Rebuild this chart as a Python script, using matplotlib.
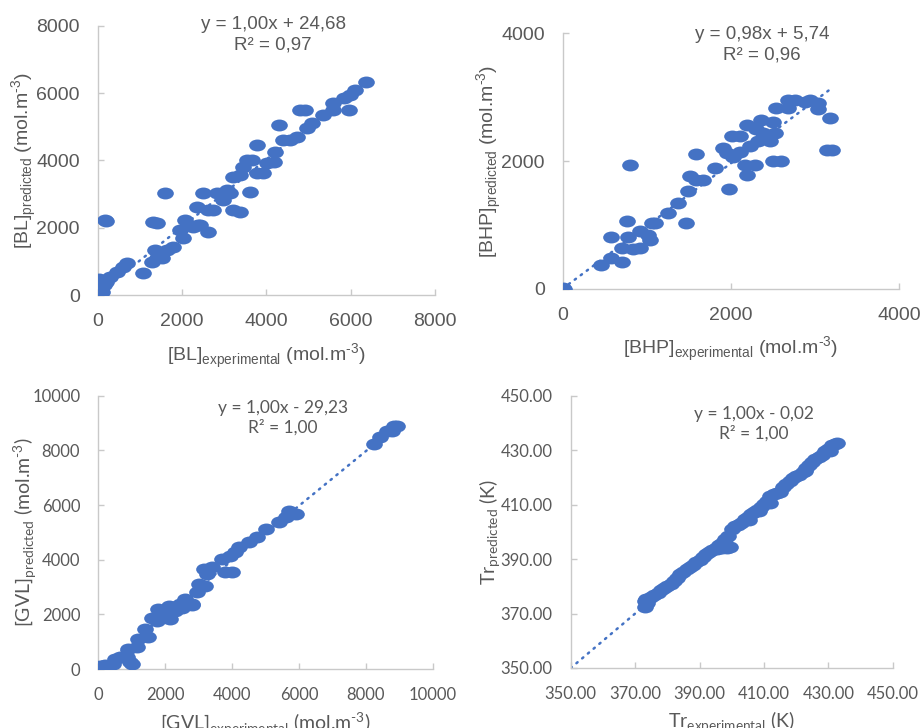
import matplotlib
matplotlib.use("Agg")
import matplotlib.pyplot as plt
from matplotlib.path import Path

# ---- data ----
bl_exp = [0, 10, 20, 30, 50, 80, 120, 30, 15, 5, 0, 60, 100, 150, 200, 170, 190,
          300, 450, 600, 700, 1080, 1280, 1320, 1360, 1400, 1400, 1520, 1600, 1640,
          1790, 1950, 2030, 2070, 2270, 2350, 2390, 2430, 2500, 2620, 2620, 2740,
          2820, 2980, 3060, 3140, 3220, 3220, 3380, 3380, 3450, 3530, 3610, 3650,
          3770, 3770, 3930, 4010, 4170, 4210, 4290, 4400, 4560, 4720, 4800, 4920,
          4960, 5080, 5350, 5590, 5590, 5830, 5950, 5980, 6100, 6360]
bl_pred = [0, 30, 80, 150, 250, 350, 420, 480, 380, 200, 100, 150, 100, 300, 380,
           2220, 2200, 540, 690, 840, 940, 640, 990, 2180, 1340, 1090, 2130, 1090,
           3040, 1340, 1430, 1930, 1680, 2230, 2030, 2620, 2080, 2080, 3020, 1880,
           2520, 2520, 3020, 2820, 3120, 3020, 2520, 3510, 2480, 3560, 3810, 4010,
           3070, 4010, 4450, 3610, 3610, 3910, 3960, 4260, 5050, 4600, 4600, 4700,
           5490, 5490, 4950, 5100, 5350, 5490, 5690, 5840, 5490, 5940, 6090, 6340]

bhp_exp = [0, 5, 10, 460, 580, 700, 580, 700, 760, 780, 840, 920, 920, 1020, 1040,
           1060, 1100, 800, 1250, 1370, 1470, 1490, 1510, 1590, 1590, 1670, 1810,
           1910, 1950, 1980, 2010, 2030, 2110, 2110, 2170, 2190, 2190, 2230, 2290,
           2300, 2320, 2360, 2380, 2460, 2500, 2520, 2500, 2600, 2540, 2680, 2680,
           2760, 2880, 2940, 3040, 3040, 3180, 3140, 3200]
bhp_pred = [0, 10, 5, 370, 480, 430, 820, 640, 1060, 820, 620, 640, 900, 850, 770,
            1030, 1040, 1940, 1190, 1340, 1030, 1530, 1760, 1710, 2110, 1710, 1890,
            2200, 2130, 1570, 2390, 2070, 2150, 2390, 1940, 1790, 2570, 2230, 1940,
            2500, 2310, 2650, 2440, 2310, 2620, 2440, 2000, 2000, 2830, 2960, 2830,
            2960, 2930, 2960, 2910, 2820, 2670, 2180, 2180]

gvl_exp = [0, 50, 150, 250, 200, 450, 500, 650, 850, 950, 1000, 900, 1150, 1200,
           1400, 1500, 1600, 1750, 1800, 1950, 2050, 2100, 2150, 2200, 2300, 2450,
           2500, 2600, 2800, 2800, 2950, 3000, 3150, 3200, 3250, 3400, 3700, 3800,
           3950, 4000, 4100, 4200, 4500, 4750, 5000, 5400, 5600, 5700, 5900, 8230,
           8430, 8630, 8780, 8830, 8930]
gvl_pred = [0, 120, 120, 60, 150, 180, 370, 430, 430, 240, 180, 730, 790, 1100,
            1460, 1160, 1850, 1770, 2200, 1890, 1980, 2320, 1830, 2280, 2130, 2380,
            2220, 2560, 2380, 2340, 2800, 3110, 3660, 3050, 3470, 3720, 4020, 3540,
            4150, 3540, 4270, 4450, 4630, 4820, 5120, 5370, 5550, 5790, 5670, 8230,
            8480, 8720, 8720, 8900, 8900]

tr_exp = [373.0, 373.1, 373.3, 373.6, 374.0, 375.0, 376.0, 377.0, 378.0, 379.0,
          380.0, 381.0, 382.0, 383.0, 384.0, 385.0, 386.0, 387.0, 388.0, 389.0,
          390.0, 391.0, 392.0, 393.0, 394.0, 395.0, 396.0, 397.0, 398.0, 399.0,
          395.5, 397.0, 398.5, 399.5, 400.0, 401.0, 402.0, 403.0, 404.0, 405.0,
          405.5, 406.0, 407.0, 408.0, 408.5, 409.0, 410.0, 411.0, 411.8, 412.0,
          413.0, 414.0, 415.0, 416.0, 417.0, 418.0, 419.0, 420.0, 421.0, 422.0,
          422.8, 423.0, 424.0, 425.0, 426.0, 427.0, 428.0, 429.0, 430.0, 430.5,
          431.0, 432.0, 432.6]
tr_pred = [372.5, 374.5, 375.5, 374.0, 375.2, 376.0, 376.8, 377.6, 378.5, 379.3,
           380.2, 381.0, 381.8, 383.0, 384.6, 385.4, 386.2, 387.0, 388.0, 388.8,
           389.8, 390.8, 391.8, 392.6, 393.4, 394.2, 395.0, 396.0, 397.2, 398.6,
           393.8, 393.9, 394.2, 394.6, 401.2, 402.0, 402.6, 403.4, 404.6, 405.4,
           404.4, 406.6, 407.4, 408.0, 407.8, 409.2, 410.2, 411.2, 410.6, 413.0,
           413.8, 414.2, 414.6, 416.4, 417.6, 418.8, 419.8, 420.6, 421.0, 422.0,
           422.4, 423.6, 424.6, 425.6, 426.6, 427.6, 428.4, 429.6, 430.4, 429.8,
           431.8, 432.4, 432.6]

blue = "#4472C4"
grey_txt = "#595959"
grey_ax = "#C9C9C9"

circ = Path.unit_circle()
ellipse = Path(circ.vertices * [1.4, 1.0], circ.codes)

W, H = 922, 728
fig = plt.figure(figsize=(W / 100, H / 100), dpi=100)


def panel(box, x, y, slope, icpt, x0, lim, ticks, fmt, font, fs, lfs,
          xlab, ylab, ylab_x, xlab_y, eq, eq_xy, eq_fs):
    l, b, r, t = box
    ax = fig.add_axes([l / W, 1 - b / H, (r - l) / W, (b - t) / H])
    xx = [x0, max(x)]
    ax.plot(xx, [slope * v + icpt for v in xx], color=blue, lw=1.8,
            ls=(0, (0.6, 2.4)), dash_capstyle="round", zorder=2)
    ax.plot(x, y, ls="none", marker=ellipse, ms=12, color=blue, mec="none", zorder=3)
    ax.set_xlim(lim)
    ax.set_ylim(lim)
    ax.set_xticks(ticks)
    ax.set_yticks(ticks)
    ax.set_xticklabels([fmt.format(v) for v in ticks])
    ax.set_yticklabels([fmt.format(v) for v in ticks])
    for s in ["top", "right"]:
        ax.spines[s].set_visible(False)
    for s in ["left", "bottom"]:
        ax.spines[s].set_color(grey_ax)
        ax.spines[s].set_linewidth(1.0)
    ax.tick_params(direction="in", length=4, width=1, color=grey_ax,
                   labelcolor=grey_txt, labelsize=fs, pad=13)
    for lab in ax.get_xticklabels() + ax.get_yticklabels():
        lab.set_family(font)
    ax.set_xlabel(xlab, fontsize=lfs, color=grey_txt, family=font)
    ax.set_ylabel(ylab, fontsize=lfs, color=grey_txt, family=font)
    ax.yaxis.set_label_coords(ylab_x, 0.5)
    ax.xaxis.set_label_coords(0.5, xlab_y)
    fig.text(eq_xy[0] / W, 1 - eq_xy[1] / H, eq, ha="center", va="top",
             fontsize=eq_fs, color=grey_txt, family=font, linespacing=1.25)
    ax.patch.set_alpha(0)
    return ax


top_font = "Liberation Sans"
bot_font = "Lato"
unit = r" (mol.m$^{\mathregular{‐3}}$)"

panel((97.7, 295, 435, 25.7), bl_exp, bl_pred, 1.00, 24.68, 0, (0, 8000),
      [0, 2000, 4000, 6000, 8000], "{:.0f}", top_font, 14, 14,
      r"[BL]$_{\mathregular{experimental}}$" + unit,
      r"[BL]$_{\mathregular{predicted}}$" + unit,
      -0.175, -0.175, "y = 1,00x + 24,68\nR² = 0,97", (273, 16), 13.5)

panel((562.7, 289, 899, 33.3), bhp_exp, bhp_pred, 0.98, 5.74, 0, (0, 4000),
      [0, 2000, 4000], "{:.0f}", top_font, 14, 14,
      r"[BHP]$_{\mathregular{experimental}}$" + unit,
      r"[BHP]$_{\mathregular{predicted}}$" + unit,
      -0.175, -0.18, "y = 0,98x + 5,74\nR² = 0,96", (762, 26), 13.5)

panel((98.3, 669, 432.7, 395.7), gvl_exp, gvl_pred, 1.00, -29.23, 0, (0, 10000),
      [0, 2000, 4000, 6000, 8000, 10000], "{:.0f}", bot_font, 12, 14,
      r"[GVL]$_{\mathregular{experimental}}$" + unit,
      r"[GVL]$_{\mathregular{predicted}}$" + unit,
      -0.178, -0.154, "y = 1,00x - 29,23\nR² = 1,00", (283, 400), 12.5)

panel((570.7, 668, 892.7, 395.7), tr_exp, tr_pred, 1.00, -0.02, 350, (350, 450),
      [350, 370, 390, 410, 430, 450], "{:.2f}", bot_font, 12, 14,
      r"Tr$_{\mathregular{experimental}}$ (K)",
      r"Tr$_{\mathregular{predicted}}$ (K)",
      -0.21, -0.154, "y = 1,00x - 0,02\nR² = 1,00", (754, 406), 12.5)

fig.savefig("out.png", dpi=100)
